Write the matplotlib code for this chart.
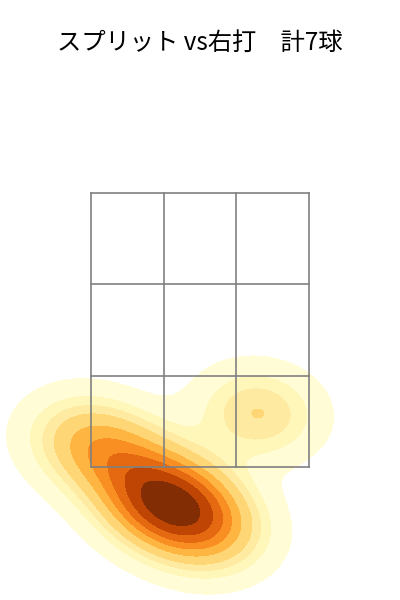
import matplotlib
matplotlib.use('Agg')
import matplotlib.pyplot as plt
import seaborn as sns

# pitch locations (zone units: x -1.5..1.5, y 0..3)
pitch_x = [0.80, -1.60, -1.05, -0.62, -0.45, -0.20, 0.15]
pitch_y = [0.59, 0.32, 0.06, -0.30, -0.40, -0.50, -0.72]

title = 'スプリット vs右打\u3000計7球'

fig = plt.figure(figsize=(4, 6), dpi=100)
ax = fig.add_axes([0, 0, 1, 1])

sns.kdeplot(x=pitch_x, y=pitch_y, fill=True, cmap='YlOrBr', ax=ax,
            bw_adjust=1.0, zorder=1)

# strike zone 3x3
for v in [-1.5, -0.5, 0.5, 1.5]:
    ax.plot([v, v], [0, 3], color='gray', lw=1.2, zorder=3)
for h in [0, 1, 2, 3]:
    ax.plot([-1.5, 1.5], [h, h], color='gray', lw=1.2, zorder=3)

ax.set_xlim(-2.752, 2.752)
ax.set_ylim(-1.456, 5.113)
ax.axis('off')

fig.text(0.5, 0.928, title, ha='center', va='center', fontsize=17.5,
         family=['Noto Sans CJK JP', 'DejaVu Sans'])

fig.savefig('out.png', dpi=100)
